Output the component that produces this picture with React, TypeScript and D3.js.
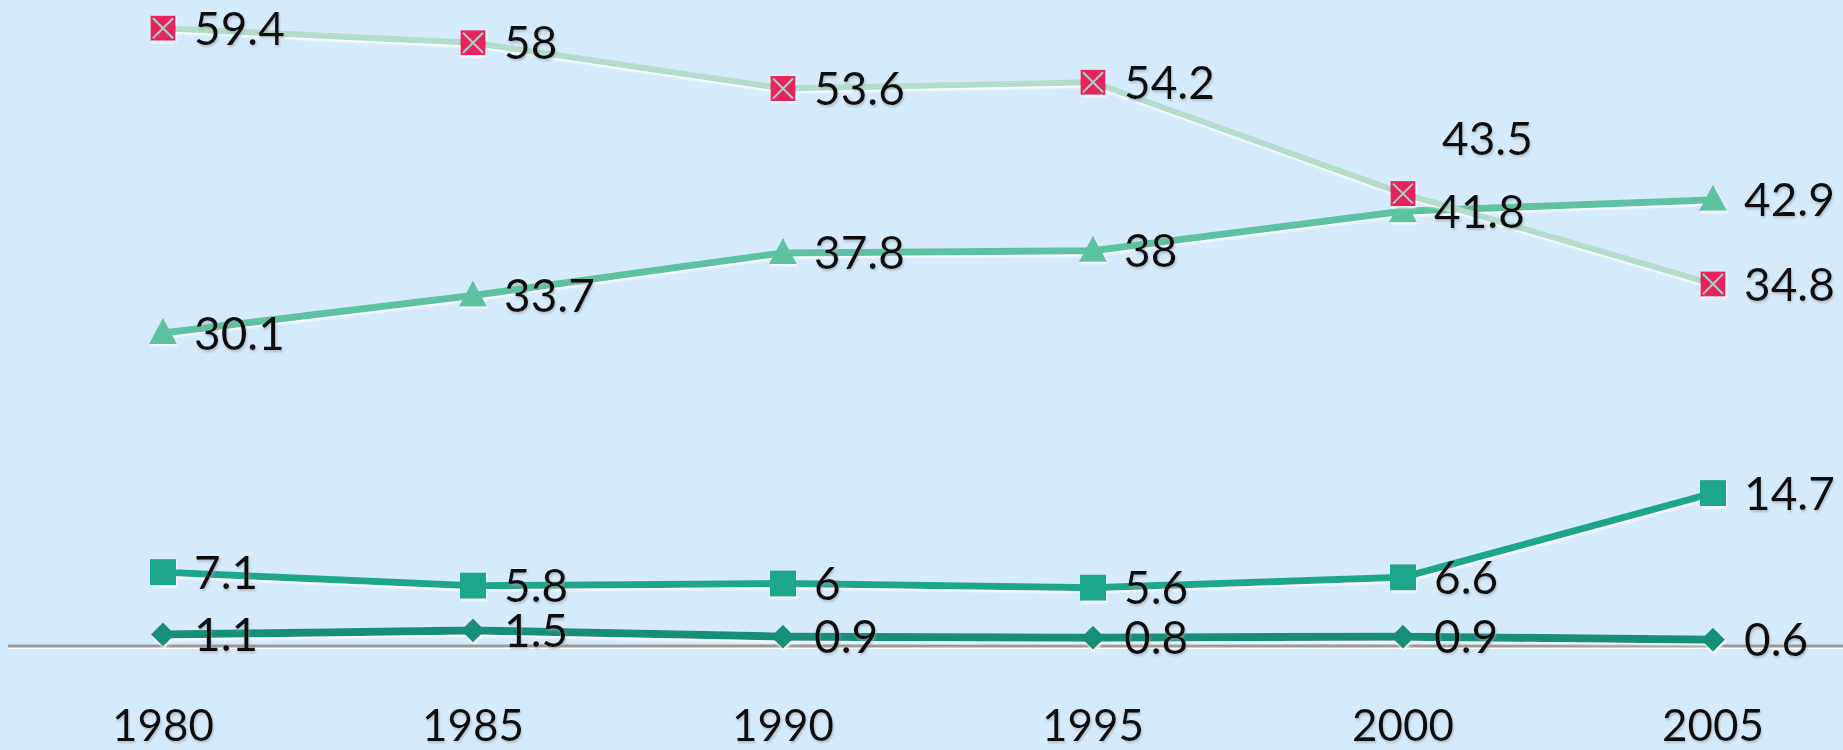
import * as d3 from 'd3';
import React, { useEffect, useRef } from 'react';

const years = ['1980', '1985', '1990', '1995', '2000', '2005'];
const seriesPink = [59.4, 58, 53.6, 54.2, 43.5, 34.8];
const seriesTriangle = [30.1, 33.7, 37.8, 38, 41.8, 42.9];
const seriesSquare = [7.1, 5.8, 6, 5.6, 6.6, 14.7];
const seriesDiamond = [1.1, 1.5, 0.9, 0.8, 0.9, 0.6];

type Shape = 'crossSquare' | 'triangle' | 'square' | 'diamond';

interface Series {
  name: string;
  values: number[];
  line: string;
  marker: string;
  shape: Shape;
  lineWidth: number;
}

const series: Series[] = [
  { name: 'diamond', values: seriesDiamond, line: '#158f79', marker: '#158f79', shape: 'diamond', lineWidth: 8 },
  { name: 'square', values: seriesSquare, line: '#1ba68a', marker: '#1ba68a', shape: 'square', lineWidth: 7 },
  { name: 'triangle', values: seriesTriangle, line: '#5cc2a1', marker: '#5cc2a1', shape: 'triangle', lineWidth: 7 },
  { name: 'pink', values: seriesPink, line: '#b3dccb', marker: '#e8225e', shape: 'crossSquare', lineWidth: 6 },
];

const App: React.FC = () => {
  const svgRef = useRef<SVGSVGElement | null>(null);

  useEffect(() => {
    const width = 1843;
    const height = 750;
    const svg = d3.select(svgRef.current);
    svg.selectAll('*').remove();
    svg.attr('width', width).attr('height', height).attr('viewBox', `0 0 ${width} ${height}`);

    const defs = svg.append('defs');
    const glow = defs.append('filter').attr('id', 'glow').attr('x', '-20%').attr('y', '-50%').attr('width', '140%').attr('height', '200%');
    glow.append('feDropShadow').attr('dx', 1).attr('dy', 2).attr('stdDeviation', 1).attr('flood-color', '#ffffff').attr('flood-opacity', 0.95);
    const tshadow = defs.append('filter').attr('id', 'tshadow').attr('x', '-20%').attr('y', '-20%').attr('width', '140%').attr('height', '140%');
    tshadow.append('feDropShadow').attr('dx', 1).attr('dy', 2).attr('stdDeviation', 1).attr('flood-color', '#9aa6ad').attr('flood-opacity', 0.6);

    svg.append('rect').attr('width', width).attr('height', height).attr('fill', '#d5eafb');

    const x = d3.scalePoint<string>().domain(years).range([163, 1713]);
    const y = d3.scaleLinear().domain([0, 62]).range([646, 1.2]);

    // baseline axis
    svg.append('line').attr('x1', 8).attr('x2', width).attr('y1', y(0) + 2).attr('y2', y(0) + 2)
      .attr('stroke', '#ffffff').attr('stroke-width', 2);
    svg.append('line').attr('x1', 8).attr('x2', width).attr('y1', y(0)).attr('y2', y(0))
      .attr('stroke', '#999999').attr('stroke-width', 3);

    // year labels
    svg.append('g').selectAll('text').data(years).join('text')
      .attr('x', (d) => x(d)!)
      .attr('y', 741)
      .attr('text-anchor', 'middle')
      .attr('font-family', 'Lato, "Open Sans", sans-serif')
      .attr('font-size', 44)
      .attr('fill', '#111')
      .attr('filter', 'url(#tshadow)')
      .text((d) => d);

    const line = d3.line<number>().x((_, i) => x(years[i])!).y((d) => y(d));

    series.forEach((s) => {
      const g = svg.append('g').attr('filter', 'url(#glow)');
      g.append('path').datum(s.values)
        .attr('fill', 'none')
        .attr('stroke', s.line)
        .attr('stroke-width', s.lineWidth)
        .attr('stroke-linejoin', 'round')
        .attr('d', line);

      const pts = g.selectAll('g.pt').data(s.values).join('g')
        .attr('class', 'pt')
        .attr('transform', (d, i) => `translate(${x(years[i])},${y(d)})`);

      if (s.shape === 'crossSquare') {
        pts.append('rect').attr('x', -12.5).attr('y', -12.5).attr('width', 25).attr('height', 25).attr('fill', s.marker);
        pts.append('path').attr('d', 'M-10,-10L10,10M10,-10L-10,10').attr('stroke', '#9fd9c8').attr('stroke-width', 2);
      } else if (s.shape === 'square') {
        pts.append('rect').attr('x', -13).attr('y', -13).attr('width', 26).attr('height', 26).attr('fill', s.marker);
      } else if (s.shape === 'triangle') {
        pts.append('path').attr('d', 'M0,-15L14,11L-14,11Z').attr('fill', s.marker);
      } else {
        pts.append('path').attr('d', 'M0,-12L12,0L0,12L-12,0Z').attr('fill', s.marker);
      }
    });

    // data labels
    const labels: { v: number; i: number; dx: number; dy: number }[] = [];
    series.forEach((s) => {
      s.values.forEach((v, i) => {
        const above = s.name === 'pink' && i === 4;
        labels.push({ v, i, dx: above ? 39 : 31, dy: above ? -55 : 0 });
      });
    });

    svg.append('g').selectAll('text').data(labels).join('text')
      .attr('x', (d) => x(years[d.i])! + d.dx)
      .attr('y', (d) => y(d.v) + d.dy)
      .attr('dy', '0.36em')
      .attr('font-family', 'Lato, "Open Sans", sans-serif')
      .attr('font-size', 46)
      .attr('fill', '#111')
      .attr('filter', 'url(#tshadow)')
      .text((d) => String(d.v));
  }, []);

  return (
    <div>
      <svg ref={svgRef} style={{ position: 'fixed', top: 0, left: 0 }}></svg>
    </div>
  );
};

export default App;
